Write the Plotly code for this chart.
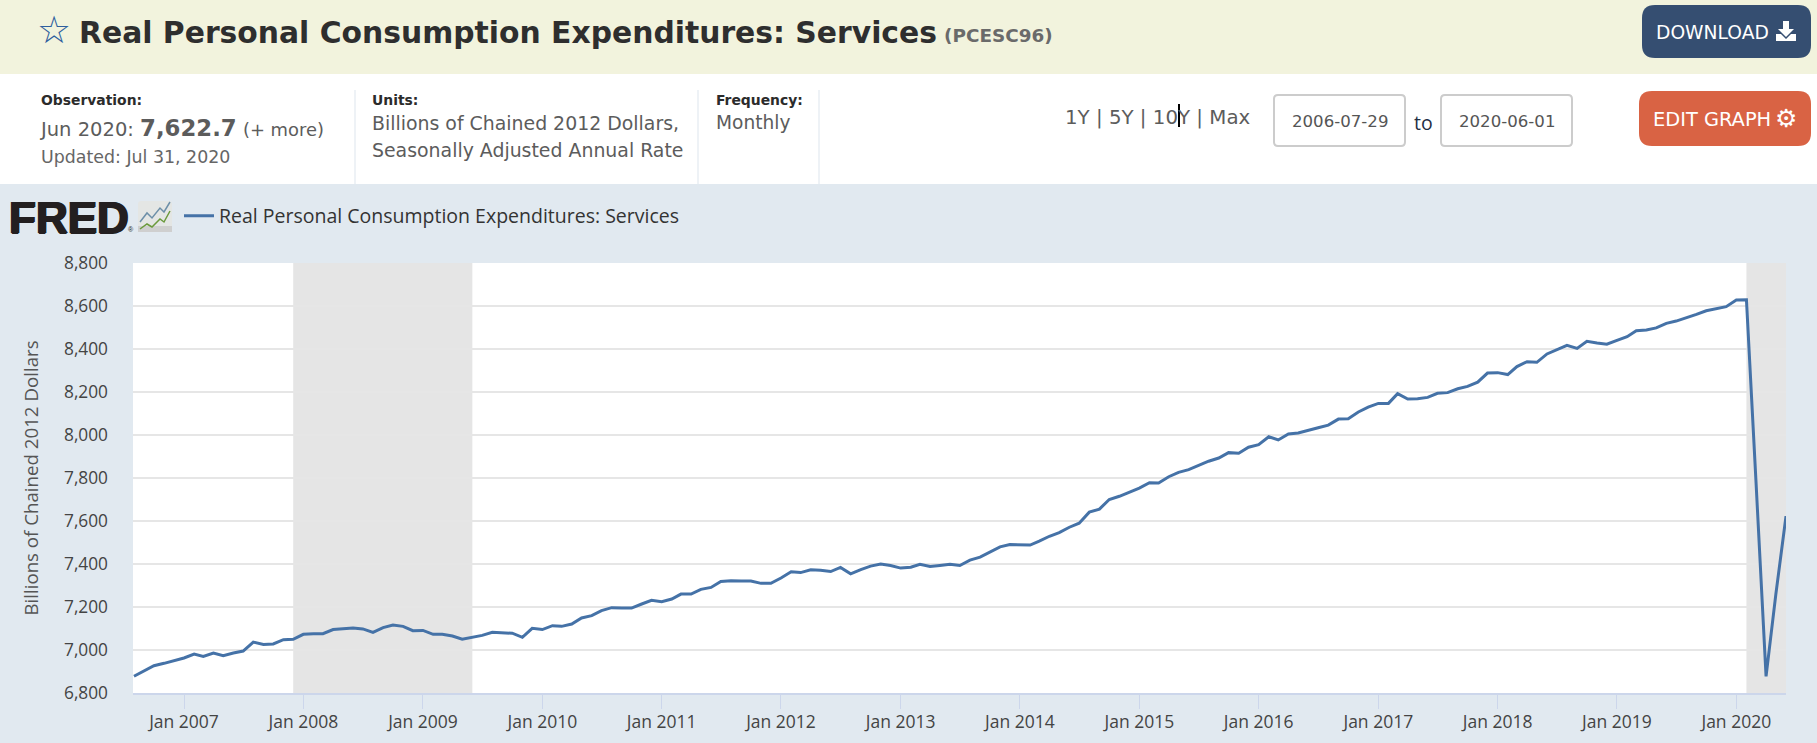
import pandas as pd
import plotly.graph_objects as go

# ---- data (monthly, billions of chained 2012 dollars) ----
values_2006 = [6878, 6902, 6927, 6938, 6950]
values_2007 = [6963, 6981, 6970, 6986, 6974, 6986, 6995, 7037, 7026, 7028, 7048, 7050]
values_2008 = [7073, 7076, 7076, 7095, 7098, 7102, 7098, 7082, 7104, 7116, 7110, 7090]
values_2009 = [7091, 7073, 7073, 7065, 7050, 7058, 7068, 7082, 7081, 7078, 7059, 7101]
values_2010 = [7095, 7113, 7110, 7121, 7149, 7160, 7183, 7197, 7195, 7195, 7214, 7231]
values_2011 = [7225, 7237, 7260, 7260, 7282, 7291, 7319, 7322, 7321, 7321, 7310, 7310]
values_2012 = [7335, 7364, 7360, 7373, 7371, 7365, 7384, 7354, 7374, 7390, 7400, 7393]
values_2013 = [7381, 7385, 7399, 7388, 7393, 7399, 7393, 7418, 7432, 7455, 7480, 7491]
values_2014 = [7488, 7488, 7506, 7529, 7546, 7571, 7590, 7641, 7655, 7700, 7715, 7734]
values_2015 = [7753, 7778, 7777, 7806, 7826, 7839, 7859, 7878, 7893, 7918, 7915, 7943]
values_2016 = [7955, 7992, 7977, 8005, 8009, 8023, 8034, 8046, 8074, 8076, 8107, 8130]
values_2017 = [8147, 8147, 8192, 8167, 8169, 8175, 8194, 8197, 8215, 8226, 8246, 8288]
values_2018 = [8290, 8281, 8318, 8341, 8338, 8377, 8395, 8417, 8403, 8436, 8428, 8422]
values_2019 = [8440, 8457, 8485, 8488, 8498, 8519, 8530, 8544, 8561, 8578, 8589, 8597]
values_2020 = [8628, 8629, 7790, 6877, 7260, 7622.7]
values = (values_2006 + values_2007 + values_2008 + values_2009 + values_2010 + values_2011
          + values_2012 + values_2013 + values_2014 + values_2015 + values_2016 + values_2017
          + values_2018 + values_2019 + values_2020)
dates = pd.date_range("2006-08-01", periods=len(values), freq="MS")

recession_starts = ["2007-12-01", "2020-02-01"]
recession_ends = ["2009-06-01", "2020-06-01"]
x_range = ["2006-07-29", "2020-06-01"]
y_ticks = [6800, 7000, 7200, 7400, 7600, 7800, 8000, 8200, 8400, 8600, 8800]
series_name = "Real Personal Consumption Expenditures: Services"

# ---- page geometry ----
W, H = 1817, 743
ML, MR, MT, MB = 133, 31, 263, 50
PW, PH = W - ML - MR, H - MT - MB
def px(x): return (x - ML) / PW
def py(y): return 1 - (y - MT) / PH

VERD = "DejaVu Sans"
OPEN = "Open Sans"
shapes, annotations = [], []

def rect(x0, y0, x1, y1, fill):
    shapes.append(dict(type="rect", xref="paper", yref="paper", x0=px(x0), x1=px(x1),
                       y0=py(y0), y1=py(y1), fillcolor=fill, line_width=0, layer="above"))

def poly(points, color=None, fill=None, width=1.5, close=False):
    d = "M" + " L".join(f"{px(a):.6f},{py(b):.6f}" for a, b in points) + (" Z" if close else "")
    shapes.append(dict(type="path", xref="paper", yref="paper", path=d, fillcolor=fill,
                       line=dict(color=color or "rgba(0,0,0,0)", width=width if color else 0),
                       layer="above"))

def rrect(x0, y0, x1, y1, r, fill, border=None, bw=0):
    P = lambda a, b: f"{px(a):.6f},{py(b):.6f}"
    d = (f"M{P(x0+r,y0)} L{P(x1-r,y0)} Q{P(x1,y0)} {P(x1,y0+r)} L{P(x1,y1-r)} Q{P(x1,y1)} {P(x1-r,y1)} "
         f"L{P(x0+r,y1)} Q{P(x0,y1)} {P(x0,y1-r)} L{P(x0,y0+r)} Q{P(x0,y0)} {P(x0+r,y0)} Z")
    shapes.append(dict(type="path", xref="paper", yref="paper", path=d, fillcolor=fill,
                       line=dict(color=border or fill, width=bw), layer="above"))

def text(x, y, s, size, color="#555555", font=VERD, anchor="left", **fontkw):
    annotations.append(dict(xref="paper", yref="paper", x=px(x), y=py(y), text=s, showarrow=False,
                            xanchor=anchor, yanchor="middle", align=anchor, borderpad=0, borderwidth=0,
                            font=dict(family=font, size=size, color=color, **fontkw)))

# page bands
rect(0, 0, W, 74, "#f2f3dd")
rect(0, 74, W, 184, "#ffffff")
for sx in (355, 698, 819):
    rect(sx - 0.5, 90, sx + 0.5, 184, "#dde6ee")

# title band
text(54, 30, "☆", 38, "#2f5f9e", VERD, "center")
text(79, 32, "<b>Real Personal Consumption Expenditures: Services</b>", 29.8, "#2e2e2e")
text(944, 36, "<b>(PCESC96)</b>", 18.4, "#6a6a6a")
rrect(1642, 5, 1811, 58, 13, "#354e71")
text(1656, 33, "DOWNLOAD", 18.7, "#ffffff")
poly([(1783, 21), (1789, 21), (1789, 29), (1794, 29), (1786, 37), (1778, 29), (1783, 29)], fill="#ffffff", close=True)
poly([(1776, 34), (1781, 34), (1786, 39), (1791, 34), (1796, 34), (1796, 41), (1776, 41)], fill="#ffffff", close=True)

# metadata band
text(41, 100, "<b>Observation:</b>", 13.9, "#2b2b2b")
text(39, 128, 'Jun 2020: <b><span style="font-size:22.8px">7,622.7</span></b> '
              '<span style="font-size:17.9px">(+ more)</span>', 19.5, "#5c5c5c")
text(41, 157, "Updated: Jul 31, 2020", 17.4, "#666666")
text(372, 100, "<b>Units:</b>", 13.9, "#2b2b2b")
text(372, 123, "Billions of Chained 2012 Dollars,", 18.9, "#5c5c5c")
text(372, 150, "Seasonally Adjusted Annual Rate", 18.9, "#5c5c5c")
text(716, 100, "<b>Frequency:</b>", 13.9, "#2b2b2b")
text(716, 123, "Monthly", 18.6, "#5c5c5c")
text(1065, 117, "1Y | 5Y | 10Y | Max", 19.8, "#5c5c5c")
rect(1178, 104, 1180, 127, "#000000")
rrect(1274, 95, 1405, 146, 4, "#ffffff", "#cccccc", 2)
rrect(1441, 95, 1572, 146, 4, "#ffffff", "#cccccc", 2)
text(1339.5, 121, "2006-07-29", 16.6, "#555555", anchor="center")
text(1506.5, 121, "2020-06-01", 16.6, "#555555", anchor="center")
text(1423, 122, "to", 19.5, "#1f2f45", OPEN, "center")
rrect(1639, 91, 1811, 146, 13, "#d96344")
text(1653, 119, "EDIT GRAPH", 19.4, "#ffffff")
text(1786, 118, "⚙", 25, "#ffffff", VERD, "center")

# FRED logo
text(9, 217, "<b>FRED</b>", 44, "#231f20", "Liberation Sans",
     shadow="1px 0 0 #231f20, -1px 0 0 #231f20, 0 1px 0 #231f20")
text(131, 230, "®", 7, "#231f20", "Liberation Sans", "center")
rrect(138, 201, 172, 232, 3, "#e4e6e4")
rect(138, 226, 172, 232, "#cfcfcf")
poly([(140, 222), (147, 213), (152, 218), (160, 208), (164, 212), (170, 202)], color="#6d8fa8", width=1.5)
poly([(140, 229), (147, 224), (152, 227), (160, 219), (164, 222), (170, 211)], color="#6b9a3c", width=1.5)

# recession bands, between the grid and the line
for a, b in zip(recession_starts, recession_ends):
    shapes.append(dict(type="rect", xref="x", yref="paper", x0=a, x1=b, y0=0, y1=1,
                       fillcolor="#e5e5e5", line_width=0, layer="between"))

fig = go.Figure(go.Scatter(x=dates, y=values, mode="lines", name=series_name,
                           line=dict(color="#4572a7", width=3), showlegend=True))
fig.update_layout(
    width=W, height=H, autosize=False,
    margin=dict(l=ML, r=MR, t=MT, b=MB, pad=0, autoexpand=False),
    paper_bgcolor="#e1e9f0", plot_bgcolor="#ffffff",
    shapes=shapes, annotations=annotations,
    legend=dict(x=px(179), y=py(216), xanchor="left", yanchor="middle", orientation="h",
                bgcolor="rgba(0,0,0,0)", font=dict(family=OPEN, size=19.5, color="#333333"), itemwidth=30),
    xaxis=dict(range=x_range, type="date", dtick="M12", tick0="2007-01-01", tickformat="%b %Y",
               ticks="outside", ticklen=14, tickcolor="#ccd6eb", tickwidth=1, showgrid=False,
               showline=True, linecolor="#ccd6eb", linewidth=2, zeroline=False, ticklabelstandoff=-2,
               automargin=False, tickfont=dict(family=OPEN, size=17.5, color="#444444")),
    yaxis=dict(range=[6800, 8800], tickvals=y_ticks, tickformat=",d", showgrid=True,
               gridcolor="#e6e6e6", gridwidth=2, zeroline=False, showline=False,
               ticks="", ticklabelstandoff=24, automargin=False,
               tickfont=dict(family=OPEN, size=17.3, color="#444444"),
               title=dict(text="Billions of Chained 2012 Dollars", standoff=20,
                          font=dict(family=OPEN, size=18.7, color="#555555"))),
)
fig.write_html("out.html", config=dict(displayModeBar=False),
               post_script="document.body.style.margin='0';document.body.style.overflow='hidden';")
